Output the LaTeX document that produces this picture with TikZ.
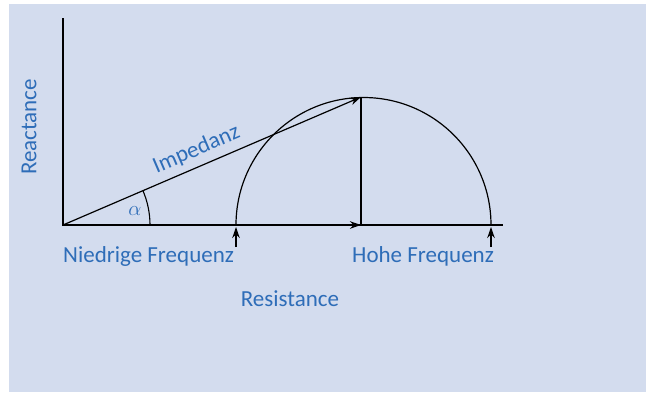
\documentclass[tikz,border=0pt]{standalone}
\usepackage{fontspec}
\setmainfont{Carlito}
\usetikzlibrary{arrows.meta,calc}
\definecolor{bgblue}{HTML}{D3DCEE}
\definecolor{txtblue}{HTML}{2E6DB8}
\tikzset{
  lbl/.style={text=txtblue, font=\fontsize{23}{27}\selectfont, inner sep=0pt},
  ax/.style={line width=1.4pt, black},
  vec/.style={line width=1.2pt, black, -{Stealth[length=11pt,width=7.5pt]}},
}
\begin{document}
\begin{tikzpicture}[x=1pt,y=-1pt]
\useasboundingbox (0,0) rectangle (646,392);
\fill[white] (0,0) rectangle (646,392);
\fill[bgblue] (9,4) rectangle (646,392);
\coordinate (O) at (63,225);
\coordinate (Ytop) at (63,18);
\coordinate (Xend) at (503,225);
\coordinate (P) at (361,225);
\coordinate (Q) at (361,97);
\coordinate (L) at (236,225);
\coordinate (R) at (491,225);
\coordinate (La) at (236,247);
\coordinate (Lb) at (236,227);
\coordinate (Ra) at (491,247);
\coordinate (Rb) at (491,227);
\coordinate (A0) at (150,225);
% axes
\draw[ax] (Ytop) -- (O) -- (Xend);
% semicircle
\draw[line width=1.2pt] (L) arc[start angle=180, end angle=360, radius=127.5];
% vectors
\draw[vec] (O) -- (P);
\draw[line width=1.4pt] (P) -- (Q);
\draw[vec] (O) -- node[lbl, sloped, above=6pt, pos=0.47] {Impedanz} (Q);
% angle
\draw[line width=1.1pt] (A0) arc[start angle=0, end angle=-23.24, radius=87];
\node[lbl, font=\fontsize{22}{24}\selectfont] (alpha) at (135,211) {$\alpha$};
% small arrows
\draw[vec] (La) -- (Lb);
\draw[vec] (Ra) -- (Rb);
% labels
\node[lbl, anchor=west] (nf) at (63,256) {Niedrige Frequenz};
\node[lbl, anchor=west] (hf) at (352,256) {Hohe Frequenz};
\node[lbl] (res) at (290,299) {Resistance};
\node[lbl, rotate=90] (rea) at (29,127) {Reactance};
\end{tikzpicture}
\end{document}
